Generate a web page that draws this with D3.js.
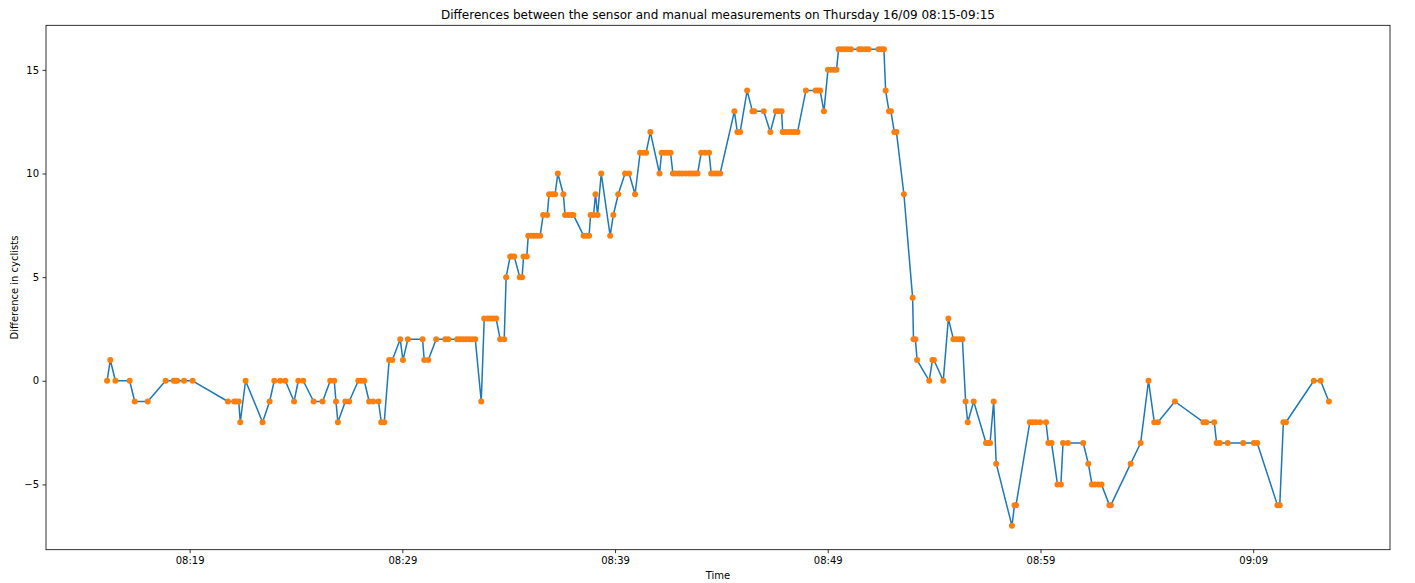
<!DOCTYPE html>
<html>
<head>
<meta charset="utf-8">
<script src="https://cdn.jsdelivr.net/npm/d3@7"></script>
<style>
  html, body { margin: 0; padding: 0; background: #ffffff; }
  svg { display: block; font-family: "DejaVu Sans", sans-serif; }
</style>
</head>
<body>
<svg id="chart" width="1415" height="583"></svg>
<script>
// Minutes past 08:00 for each measurement
const minutes = [
  15.12, 15.27, 15.51, 16.18, 16.42, 17.03, 17.87, 18.25, 18.33, 18.41, 18.74, 19.14,
  20.80, 21.10, 21.19, 21.31, 21.38, 21.63, 22.43, 22.76, 22.98,
  23.26, 23.50, 23.91, 24.11, 24.34, 24.83, 25.25, 25.61, 25.80, 25.88, 25.97, 26.32, 26.50,
  26.93, 27.07, 27.21, 27.44, 27.63, 27.88, 28.01, 28.15, 28.38, 28.53, 28.90, 29.03, 29.26,
  29.95, 30.03, 30.22, 30.59, 31.02, 31.16, 31.58, 31.72, 31.86, 32.00, 32.14, 32.28, 32.43,
  32.71, 32.85, 32.99, 33.13, 33.27, 33.41, 33.60, 33.79, 33.88, 34.07, 34.16, 34.26, 34.52,
  34.63, 34.70, 34.85, 34.92, 35.06, 35.20, 35.34, 35.48, 35.62, 35.81, 35.90, 36.04, 36.18,
  36.31, 36.57, 36.65, 36.80, 36.94, 37.04, 37.52, 37.64, 37.78, 37.85, 37.99, 38.08, 38.18,
  38.35, 38.77, 38.92, 39.15, 39.47, 39.66, 39.94, 40.18, 40.32, 40.46, 40.66, 41.09, 41.19,
  41.33, 41.47, 41.61, 41.72, 41.85, 42.01, 42.15, 42.32, 42.48, 42.62, 42.76, 42.88, 43.05,
  43.23, 43.42, 43.52, 43.66, 43.80, 43.94, 44.61, 44.75, 44.88, 45.21, 45.46, 45.55, 45.99,
  46.30, 46.56, 46.69, 46.83, 46.88, 47.02, 47.16, 47.30, 47.44, 47.58, 47.97, 48.43, 48.54,
  48.64, 48.82, 49.01, 49.15, 49.30, 49.41, 49.51, 49.65, 49.79, 49.93, 50.09, 50.47, 50.61,
  50.78, 50.92, 51.39, 51.53, 51.64, 51.72, 51.88, 51.97, 52.13, 52.23, 52.58, 52.99, 53.03,
  53.12, 53.20, 53.77, 53.92, 53.99, 54.43, 54.67, 54.91, 55.05, 55.19, 55.33, 55.48, 55.58,
  55.86, 56.44, 56.55, 56.63, 56.80, 56.92, 57.66, 57.78, 57.85, 58.50, 58.65, 58.79, 58.98,
  59.26, 59.37, 59.52, 59.80, 59.96, 60.06, 60.29, 61.01, 61.25, 61.42, 61.56, 61.72, 61.87,
  62.24, 62.31, 63.24, 63.71, 64.08, 64.35, 64.52, 65.32, 66.66, 66.80, 67.17, 67.28, 67.43,
  67.80, 68.53, 69.03, 69.19, 70.14, 70.25, 70.42, 70.54, 71.85, 72.17, 72.56
];

// Difference (sensor - manual) in cyclists
const differences = [
  0, 1, 0, 0, -1, -1, 0, 0, 0, 0, 0, 0,
  -1, -1, -1, -1, -2, 0, -2, -1, 0,
  0, 0, -1, 0, 0, -1, -1, 0, 0, -1, -2, -1, -1,
  0, 0, 0, -1, -1, -1, -2, -2, 1, 1, 2, 1, 2,
  2, 1, 1, 2, 2, 2, 2, 2, 2, 2, 2, 2, 2,
  -1, 3, 3, 3, 3, 3, 2, 2, 5, 6, 6, 6, 5,
  5, 6, 6, 7, 7, 7, 7, 7, 8, 8, 9, 9, 9,
  10, 9, 8, 8, 8, 8, 7, 7, 7, 8, 8, 9, 8,
  10, 7, 8, 9, 10, 10, 9, 11, 11, 11, 12, 10, 11,
  11, 11, 11, 10, 10, 10, 10, 10, 10, 10, 10, 10, 11,
  11, 11, 10, 10, 10, 10, 13, 12, 12, 14, 13, 13, 13,
  12, 13, 13, 13, 12, 12, 12, 12, 12, 12, 14, 14, 14,
  14, 13, 15, 15, 15, 15, 16, 16, 16, 16, 16, 16, 16,
  16, 16, 16, 16, 16, 14, 13, 13, 12, 12, 9, 4, 2,
  2, 1, 0, 1, 1, 0, 3, 2, 2, 2, 2, -1, -2,
  -1, -3, -3, -3, -1, -4, -7, -6, -6, -2, -2, -2, -2,
  -2, -3, -3, -5, -5, -3, -3, -3, -4, -5, -5, -5, -5,
  -6, -6, -4, -3, 0, -2, -2, -1, -2, -2, -2, -3, -3,
  -3, -3, -3, -3, -6, -6, -2, -2, 0, 0, -1
];

const xTickLabels = ["08:19", "08:29", "08:39", "08:49", "08:59", "09:09"];
const yTickValues = [-5, 0, 5, 10, 15];

const titleText = "Differences between the sensor and manual measurements on Thursday 16/09 08:15-09:15";
const xLabelText = "Time";
const yLabelText = "Difference in cyclists";

// ---- build ----
const base = new Date(2021, 8, 16, 8, 0, 0);
const toDate = m => new Date(base.getTime() + m * 60000);
const parseHM = s => { const [h, mi] = s.split(":").map(Number); return new Date(2021, 8, 16, h, mi, 0); };
const data = minutes.map((m, i) => ({ t: toDate(m), v: differences[i] }));

const W = 1415, H = 583;
const margin = { left: 46, right: 25, top: 25.3, bottom: 33.3 };
const iw = W - margin.left - margin.right;
const ih = H - margin.top - margin.bottom;

const svg = d3.select("#chart");
const g = svg.append("g").attr("transform", `translate(${margin.left},${margin.top})`);

// matplotlib-style 5% margins
const tExt = d3.extent(data, d => d.t.getTime());
const tPad = (tExt[1] - tExt[0]) * 0.05;
const vExt = d3.extent(data, d => d.v);
const vPad = (vExt[1] - vExt[0]) * 0.05;

const x = d3.scaleTime().domain([new Date(tExt[0] - tPad), new Date(tExt[1] + tPad)]).range([0, iw]);
const y = d3.scaleLinear().domain([vExt[0] - vPad, vExt[1] + vPad]).range([ih, 0]);

// line
const line = d3.line().x(d => x(d.t)).y(d => y(d.v));
g.append("path")
  .datum(data)
  .attr("fill", "none")
  .attr("stroke", "#1f77b4")
  .attr("stroke-width", 1.5)
  .attr("stroke-linejoin", "round")
  .attr("stroke-linecap", "square")
  .attr("d", line);

// markers
g.append("g").selectAll("circle")
  .data(data)
  .join("circle")
  .attr("cx", d => x(d.t))
  .attr("cy", d => y(d.v))
  .attr("r", 3)
  .attr("fill", "#ff7f0e");

// axes
const xAxis = d3.axisBottom(x)
  .tickValues(xTickLabels.map(parseHM))
  .tickFormat(d3.timeFormat("%H:%M"))
  .tickSizeInner(3.5).tickSizeOuter(0).tickPadding(3.5);
const yAxis = d3.axisLeft(y)
  .tickValues(yTickValues)
  .tickFormat(d3.format("d"))
  .tickSizeInner(3.5).tickSizeOuter(0).tickPadding(3.5);

const gx = g.append("g").attr("transform", `translate(0,${ih})`).call(xAxis);
const gy = g.append("g").call(yAxis);
[gx, gy].forEach(a => {
  a.select(".domain").remove();
  a.selectAll(".tick line").attr("stroke", "#000").attr("stroke-width", 0.8);
  a.selectAll(".tick text").attr("fill", "#000").style("font-size", "10px").style("font-family", "DejaVu Sans, sans-serif");
});

// frame (spines)
g.append("rect")
  .attr("x", 0).attr("y", 0).attr("width", iw).attr("height", ih)
  .attr("fill", "none").attr("stroke", "#000").attr("stroke-width", 0.8);

// labels
svg.append("text")
  .attr("x", margin.left + iw / 2).attr("y", margin.top - 6)
  .attr("text-anchor", "middle")
  .style("font-size", "12px").attr("fill", "#000")
  .text(titleText);

svg.append("text")
  .attr("x", margin.left + iw / 2).attr("y", 579)
  .attr("text-anchor", "middle")
  .style("font-size", "10px").attr("fill", "#000")
  .text(xLabelText);

svg.append("text")
  .attr("transform", `translate(18,${margin.top + ih / 2}) rotate(-90)`)
  .attr("text-anchor", "middle")
  .style("font-size", "10px").attr("fill", "#000")
  .text(yLabelText);
</script>
</body>
</html>
